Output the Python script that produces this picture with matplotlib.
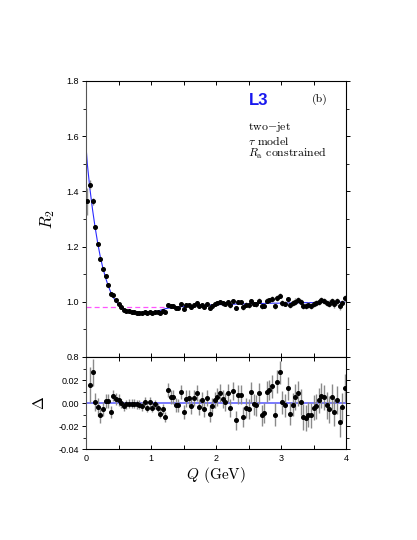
import numpy as np
import matplotlib
matplotlib.use('Agg')
import matplotlib.pyplot as plt
from matplotlib.ticker import MultipleLocator, FixedLocator, FormatStrFormatter

# ---------------- data ----------------
q = [0.02, 0.06, 0.10, 0.14, 0.18, 0.22, 0.26, 0.30, 0.34, 0.38,
     0.42, 0.46, 0.50, 0.54, 0.58, 0.62, 0.66, 0.70, 0.74, 0.78,
     0.82, 0.86, 0.90, 0.94, 0.98, 1.02, 1.06, 1.10, 1.14, 1.18,
     1.22, 1.26, 1.30, 1.34, 1.38, 1.42, 1.46, 1.50, 1.54, 1.58,
     1.62, 1.66, 1.70, 1.74, 1.78, 1.82, 1.86, 1.90, 1.94, 1.98,
     2.02, 2.06, 2.10, 2.14, 2.18, 2.22, 2.26, 2.30, 2.34, 2.38,
     2.42, 2.46, 2.50, 2.54, 2.58, 2.62, 2.66, 2.70, 2.74, 2.78,
     2.82, 2.86, 2.90, 2.94, 2.98, 3.02, 3.06, 3.10, 3.14, 3.18,
     3.22, 3.26, 3.30, 3.34, 3.38, 3.42, 3.46, 3.50, 3.54, 3.58,
     3.62, 3.66, 3.70, 3.74, 3.78, 3.82, 3.86, 3.90, 3.94, 3.98]

r2 = [1.364, 1.424, 1.364, 1.270, 1.210, 1.156, 1.120, 1.093, 1.062, 1.030,
      1.024, 1.006, 0.993, 0.981, 0.971, 0.968, 0.965, 0.963, 0.962, 0.961,
      0.961, 0.959, 0.963, 0.958, 0.963, 0.959, 0.963, 0.962, 0.960, 0.967,
      0.963, 0.988, 0.983, 0.984, 0.979, 0.979, 0.991, 0.975, 0.988, 0.989,
      0.981, 0.990, 0.995, 0.983, 0.990, 0.982, 0.993, 0.979, 0.986, 0.992,
      0.995, 0.999, 0.994, 0.992, 1.000, 0.987, 1.002, 0.977, 0.999, 0.999,
      0.980, 0.989, 0.988, 1.002, 0.992, 0.991, 1.003, 0.983, 0.985, 1.004,
      1.005, 1.010, 0.985, 1.014, 1.022, 0.996, 0.993, 1.009, 0.987, 0.995,
      1.001, 1.005, 0.998, 0.985, 0.984, 0.987, 0.986, 0.993, 0.995, 1.000,
      1.005, 1.003, 0.996, 0.993, 1.003, 0.991, 1.002, 0.983, 0.996, 1.012]

r2_err = [0.050, 0.016, 0.012, 0.008, 0.008, 0.007, 0.006, 0.006, 0.006, 0.005,
          0.005, 0.005, 0.005, 0.004, 0.004, 0.004, 0.004, 0.004, 0.004, 0.004,
          0.004, 0.004, 0.004, 0.004, 0.004, 0.004, 0.004, 0.004, 0.004, 0.004,
          0.004, 0.006, 0.006, 0.006, 0.006, 0.006, 0.006, 0.006, 0.007, 0.007,
          0.007, 0.007, 0.007, 0.007, 0.007, 0.007, 0.007, 0.007, 0.007, 0.007,
          0.008, 0.008, 0.008, 0.008, 0.008, 0.008, 0.008, 0.008, 0.008, 0.008,
          0.009, 0.009, 0.009, 0.009, 0.009, 0.009, 0.009, 0.009, 0.009, 0.009,
          0.009, 0.010, 0.010, 0.010, 0.010, 0.010, 0.010, 0.010, 0.010, 0.010,
          0.011, 0.011, 0.011, 0.011, 0.011, 0.011, 0.011, 0.011, 0.011, 0.011,
          0.011, 0.011, 0.012, 0.012, 0.012, 0.012, 0.012, 0.013, 0.012, 0.012]

fit_q0 = 0.0
fit_r0 = 1.565
fit = [1.500, 1.410, 1.335, 1.270, 1.213, 1.163, 1.122, 1.088, 1.059, 1.035,
       1.016, 1.001, 0.990, 0.981, 0.974, 0.969, 0.966, 0.964, 0.963, 0.962,
       0.962, 0.962, 0.962, 0.962, 0.962, 0.963, 0.964, 0.966, 0.969, 0.972,
       0.975, 0.977, 0.978, 0.979, 0.980, 0.981, 0.982, 0.983, 0.984, 0.984,
       0.984, 0.985, 0.986, 0.986, 0.987, 0.987, 0.988, 0.988, 0.989, 0.989,
       0.990, 0.990, 0.990, 0.991, 0.991, 0.991, 0.991, 0.992, 0.992, 0.992,
       0.992, 0.993, 0.993, 0.993, 0.993, 0.993, 0.994, 0.994, 0.994, 0.994,
       0.994, 0.995, 0.995, 0.995, 0.995, 0.995, 0.995, 0.996, 0.996, 0.996,
       0.996, 0.996, 0.997, 0.997, 0.997, 0.997, 0.997, 0.997, 0.998, 0.998,
       0.998, 0.998, 0.998, 0.998, 0.998, 0.999, 0.999, 0.999, 0.999, 0.999]

nan = float('nan')
delta = [nan, 0.0157, 0.0266, 0.0010, -0.0034, -0.0100, -0.0050, 0.0017, 0.0017, -0.0077,
         0.0066, 0.0037, 0.0029, 0.0000, -0.0029, -0.0010, -0.0006, -0.0006, -0.0006, -0.0010,
         -0.0013, -0.0029, 0.0014, -0.0040, 0.0010, -0.0040, -0.0010, -0.0040, -0.0090, -0.0050,
         -0.0120, 0.0114, 0.0050, 0.0054, -0.0014, -0.0020, 0.0094, -0.0077, 0.0040, 0.0046,
         -0.0026, 0.0046, 0.0086, -0.0034, 0.0029, -0.0050, 0.0046, -0.0090, -0.0026, 0.0029,
         0.0054, 0.0086, 0.0037, 0.0009, 0.0086, -0.0040, 0.0106, -0.0149, 0.0074, 0.0074,
         -0.0120, -0.0043, -0.0050, 0.0094, -0.0011, -0.0020, 0.0086, -0.0106, -0.0086, 0.0100,
         0.0114, 0.0146, -0.0100, 0.0186, 0.0266, 0.0009, -0.0020, 0.0129, -0.0090, -0.0014,
         0.0054, 0.0086, 0.0009, -0.0120, -0.0129, -0.0100, -0.0106, -0.0040, -0.0029, 0.0023,
         0.0066, 0.0049, -0.0020, -0.0054, 0.0049, -0.0077, 0.0029, -0.0163, -0.0034, 0.0134]

base_level = 0.981     # dashed reference level
base_qmax = 1.25

x_ticks_major = [0, 1, 2, 3, 4]
d_ticks_major = [-0.04, -0.02, 0.00, 0.02]
d_ticks_minor = [-0.03, -0.01, 0.01, 0.03]

# ---------------- style ----------------
plt.rcParams['mathtext.fontset'] = 'cm'
plt.rcParams['font.family'] = ['Liberation Sans', 'DejaVu Sans']

W, H = 417, 540
fig = plt.figure(figsize=(W / 100, H / 100), dpi=100)
L, R = 86, 346
ax1 = fig.add_axes([L / W, 1 - 357 / H, (R - L) / W, 276 / H])
ax2 = fig.add_axes([L / W, 1 - 449.3 / H, (R - L) / W, 92.3 / H])

pt_kw = dict(fmt='o', color='black', ms=2.6, ecolor='#8a8a8a', elinewidth=1.0,
             capsize=0, zorder=3)

# top panel
ax1.hlines(base_level, 0, base_qmax, colors='#ff55ff', linestyles=(0, (4, 2.5)),
           lw=0.9, zorder=2)
ax1.plot([fit_q0] + q, [fit_r0] + fit, color='#2a2aff', lw=0.8, zorder=2)
ax1.errorbar(q, r2, yerr=r2_err, **pt_kw)
ax1.set_xlim(0, 4)
ax1.set_ylim(0.8, 1.8)

# bottom panel
ax2.axhline(0.0, color='#7070ff', lw=1.3, zorder=2)
ax2.errorbar(q, delta, yerr=r2_err, **pt_kw)
ax2.set_xlim(0, 4)
ax2.set_ylim(-0.04, 0.04)

for ax in (ax1, ax2):
    ax.xaxis.set_major_locator(FixedLocator(x_ticks_major))
    ax.xaxis.set_minor_locator(MultipleLocator(0.5))
    ax.tick_params(axis='x', which='both', direction='in', top=True, bottom=True,
                   length=3.2, width=0.7, labelsize=6.5, pad=3.5)
    ax.tick_params(axis='y', which='major', direction='out', left=True, right=True,
                   length=3.0, width=0.7, labelsize=6.5, pad=2.0)
    ax.tick_params(axis='y', which='minor', direction='out', left=True, right=True,
                   length=2.0, width=0.6)
    for s in ax.spines.values():
        s.set_linewidth(0.8)
    ax.spines['left'].set_color('#555555')

ax1.tick_params(axis='x', labelbottom=False)
ax1.yaxis.set_major_locator(MultipleLocator(0.2))
ax1.yaxis.set_minor_locator(MultipleLocator(0.1))
ax1.yaxis.set_major_formatter(FormatStrFormatter('%.1f'))

ax2.yaxis.set_major_locator(FixedLocator(d_ticks_major))
ax2.yaxis.set_minor_locator(FixedLocator(d_ticks_minor))
ax2.yaxis.set_major_formatter(FormatStrFormatter('%.2f'))

# labels
ax1.set_ylabel(r'$R_2$', fontsize=12)
ax1.yaxis.set_label_coords(-0.112, 0.5)
ax2.set_ylabel(r'$\Delta$', fontsize=11)
ax2.yaxis.set_label_coords(-0.15, 0.5)
ax2.set_xlabel(r'$Q$ (GeV)', fontsize=11, family='cmr10')
ax2.xaxis.set_label_coords(0.5, -0.17)

# annotations
ax1.text(2.50, 1.728, 'L3', color='#1818ee', fontsize=12, fontweight='bold',
         family='Liberation Sans', ha='left', va='center')
ax1.text(3.60, 1.734, '(b)', fontsize=8.5, family='cmr10', ha='center', va='center')
ax1.text(2.50, 1.635, r'two$-$jet', fontsize=8.5, family='cmr10', ha='left', va='center')
ax1.text(2.50, 1.585, r'$\tau$ model', fontsize=8.5, family='cmr10', ha='left', va='center')
ax1.text(2.50, 1.539, r'$R_{\rm a}$ constrained', fontsize=8.5, family='cmr10',
         ha='left', va='center')

fig.savefig('out.png', dpi=100)
